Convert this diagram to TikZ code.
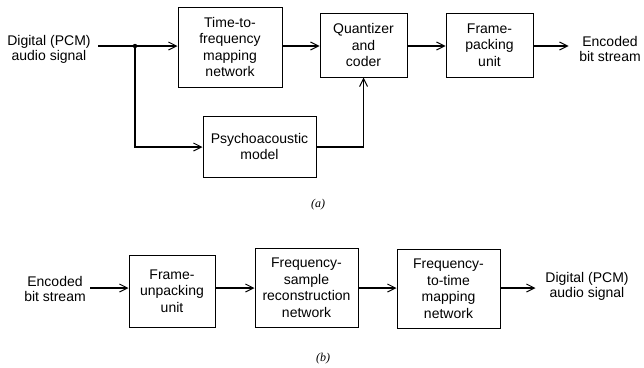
\documentclass[tikz,border=0pt]{standalone}
\usepackage{fontspec}
\setmainfont{Liberation Sans}
\newfontfamily\capfont{Liberation Serif}
\usetikzlibrary{arrows.meta}
\begin{document}
\begin{tikzpicture}[x=1pt,y=-1pt,
  blk/.style={draw,line width=1pt,inner sep=0pt,align=center,font=\fontsize{14}{16.5}\selectfont},
  lbl/.style={inner sep=0pt,align=center,font=\fontsize{14}{15}\selectfont},
  sig/.style={line width=1.5pt,-{Straight Barb[length=8pt,width=8pt,line width=1pt]}},
  wire/.style={line width=1.5pt},
  figcap/.style={inner sep=0pt,font=\fontsize{12}{14}\selectfont\capfont\itshape}]
\useasboundingbox (0,0) rectangle (644,367);
% (a)
\node[lbl] (in) at (49,49) {Digital (PCM)\\audio signal};
\node[blk,minimum width=104pt,minimum height=80pt] (tf) at (230,47) {Time-to-\\frequency\\mapping\\network};
\node[blk,minimum width=87pt,minimum height=64pt] (qc) at (363.5,45) {Quantizer\\and\\coder};
\node[blk,minimum width=87pt,minimum height=64pt] (fp) at (489.5,45) {Frame-\\packing\\unit};
\node[lbl] (out) at (610,49) {Encoded\\bit stream};
\node[blk,minimum width=113pt,minimum height=61pt] (pa) at (259.5,146.5) {Psychoacoustic\\model};
\coordinate (st) at (98,46);
\coordinate (jn) at (135,46);
\coordinate (cr) at (364,147);
\fill (jn) circle (2.2pt);
\draw[wire] (st) -- (jn);
\draw[sig] (jn) -- (jn -| tf.west);
\draw[sig] (jn) |- (pa.west |- cr);
\draw[sig] (tf.east |- jn) -- (qc.west |- jn);
\draw[sig] (qc.east |- jn) -- (fp.west |- jn);
\draw[sig] (fp.east |- jn) -- ++(35,0);
\draw[sig] (pa.east |- cr) -| (qc.south);
\node[figcap] (la) at (318,205) {(a)};
% (b)
\node[lbl] (in2) at (55,288.5) {Encoded\\bit stream};
\node[blk,minimum width=86pt,minimum height=72pt] (fu) at (172,291) {Frame-\\unpacking\\unit};
\node[blk,minimum width=103pt,minimum height=79pt] (fs) at (306.5,287.5) {Frequency-\\sample\\reconstruction\\network};
\node[blk,minimum width=103pt,minimum height=79pt] (ft) at (448.5,288.5) {Frequency-\\to-time\\mapping\\network};
\node[lbl] (out2) at (587,286.5) {Digital (PCM)\\audio signal};
\coordinate (b0) at (90,288);
\draw[sig] (b0) -- (b0 -| fu.west);
\draw[sig] (fu.east |- b0) -- (fs.west |- b0);
\draw[sig] (fs.east |- b0) -- (ft.west |- b0);
\draw[sig] (ft.east |- b0) -- ++(35,0);
\node[figcap] (lb) at (323,359) {(b)};
\end{tikzpicture}
\end{document}
